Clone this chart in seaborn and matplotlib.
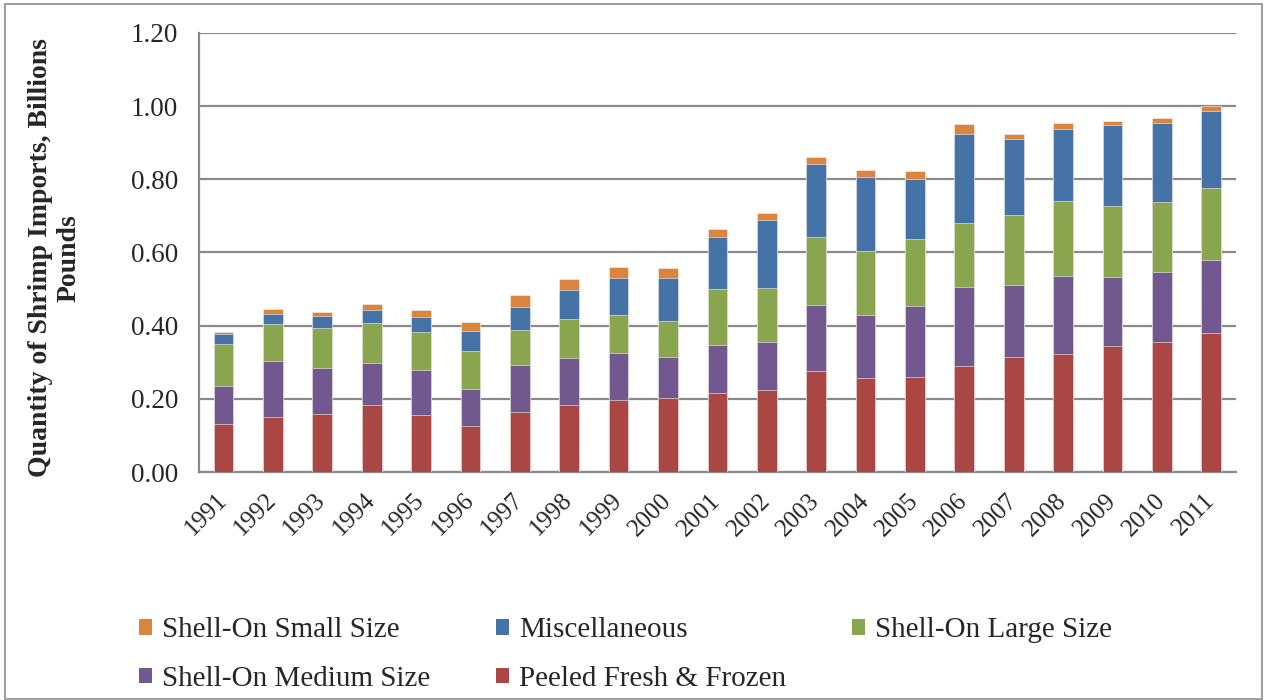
import numpy as np
import pandas as pd
import seaborn as sns
import matplotlib.pyplot as plt
from matplotlib.patches import Rectangle, Patch

# Shrimp imports by product form, billions of pounds
years = [str(y) for y in range(1991, 2012)]
peeled = [0.130, 0.149, 0.159, 0.184, 0.156, 0.126, 0.164, 0.184, 0.197, 0.203, 0.217,
          0.225, 0.277, 0.258, 0.261, 0.289, 0.315, 0.323, 0.345, 0.356, 0.380]
medium = [0.104, 0.155, 0.125, 0.114, 0.123, 0.101, 0.128, 0.128, 0.127, 0.112, 0.130,
          0.131, 0.180, 0.172, 0.194, 0.217, 0.197, 0.213, 0.188, 0.191, 0.200]
large = [0.117, 0.101, 0.109, 0.109, 0.105, 0.105, 0.095, 0.106, 0.106, 0.098, 0.152,
         0.148, 0.186, 0.175, 0.181, 0.174, 0.191, 0.205, 0.195, 0.192, 0.195]
misc = [0.026, 0.026, 0.033, 0.035, 0.039, 0.054, 0.063, 0.079, 0.101, 0.117, 0.143,
        0.185, 0.198, 0.200, 0.165, 0.245, 0.207, 0.196, 0.220, 0.214, 0.211]
small = [0.007, 0.015, 0.012, 0.016, 0.019, 0.024, 0.034, 0.030, 0.029, 0.027, 0.021,
         0.020, 0.019, 0.020, 0.021, 0.026, 0.015, 0.018, 0.012, 0.014, 0.014]

# stacking order bottom -> top
series = [
    ("Peeled Fresh & Frozen", peeled, "#AA4643"),
    ("Shell-On Medium Size", medium, "#71588F"),
    ("Shell-On Large Size", large, "#89A54E"),
    ("Miscellaneous", misc, "#4572A7"),
    ("Shell-On Small Size", small, "#DB843D"),
]

df = pd.DataFrame({name: vals for name, vals, _ in series}, index=years)
cum = df.cumsum(axis=1)

sns.set_style("white")
plt.rcParams['font.family'] = ['Liberation Serif', 'DejaVu Serif']

fig = plt.figure(figsize=(12.66, 7.0), dpi=100)
ax = fig.add_axes([0.157, 0.3257, 0.8193, 0.6272])

# draw cumulative totals from the top down so each layer covers the one above it
for name, _, color in reversed(series):
    d = pd.DataFrame({"year": years, "value": cum[name].values})
    sns.barplot(data=d, x="year", y="value", color=color, width=0.4,
                edgecolor="#f4f4f4", linewidth=0.4, saturation=1, ax=ax, zorder=3)

ax.set_ylim(0, 1.2)
ax.set_xlim(-0.5, len(years) - 0.5)
ax.set_yticks(np.arange(0, 1.21, 0.2))
ax.set_yticklabels([f"{v:.2f}" for v in np.arange(0, 1.21, 0.2)], fontsize=19.5)
ax.yaxis.grid(True, color="#8a8a8a", linewidth=1.6, zorder=0)
ax.set_axisbelow(True)

ax.set_xticks(range(len(years)))
ax.set_xticklabels(years, fontsize=18, rotation=45, ha="right",
                   rotation_mode="anchor", va="center")
ax.set_xticks(np.arange(-0.5, len(years)), minor=True)
ax.tick_params(axis="x", which="major", length=0, pad=18)
ax.tick_params(axis="x", which="minor", length=6, width=1.4, color="#8a8a8a")
ax.tick_params(axis="y", length=6, width=1.4, color="#8a8a8a", pad=9)
ax.set_xlabel("")

for s in ["top", "right"]:
    ax.spines[s].set_visible(False)
for s in ["left", "bottom"]:
    ax.spines[s].set_color("#8a8a8a")
    ax.spines[s].set_linewidth(1.6)

ax.set_ylabel("Quantity of Shrimp Imports, Billions\nPounds", fontsize=20,
              fontweight="bold", linespacing=1.2)
ax.yaxis.set_label_coords(-0.113, 0.488)

# legend: row 1 small / misc / large, row 2 medium / peeled
order = ["Shell-On Small Size", "Shell-On Medium Size", "Miscellaneous",
         "Peeled Fresh & Frozen", "Shell-On Large Size"]
colors = {name: c for name, _, c in series}
handles = [Patch(facecolor=colors[n], edgecolor="none", label=n) for n in order]
fig.legend(handles=handles, loc="upper left", bbox_to_anchor=(0.1095, 0.118),
           ncol=3, frameon=False, fontsize=21, handlelength=0.45, handleheight=0.45,
           handletextpad=0.35, columnspacing=2.25, labelspacing=0.77,
           borderaxespad=0, borderpad=0)

fig.patches.append(Rectangle((0.004, 0.002), 0.993, 0.992, transform=fig.transFigure,
                             fill=False, edgecolor="#a0a0a0", linewidth=1.5))

fig.savefig("out.png", dpi=100)
